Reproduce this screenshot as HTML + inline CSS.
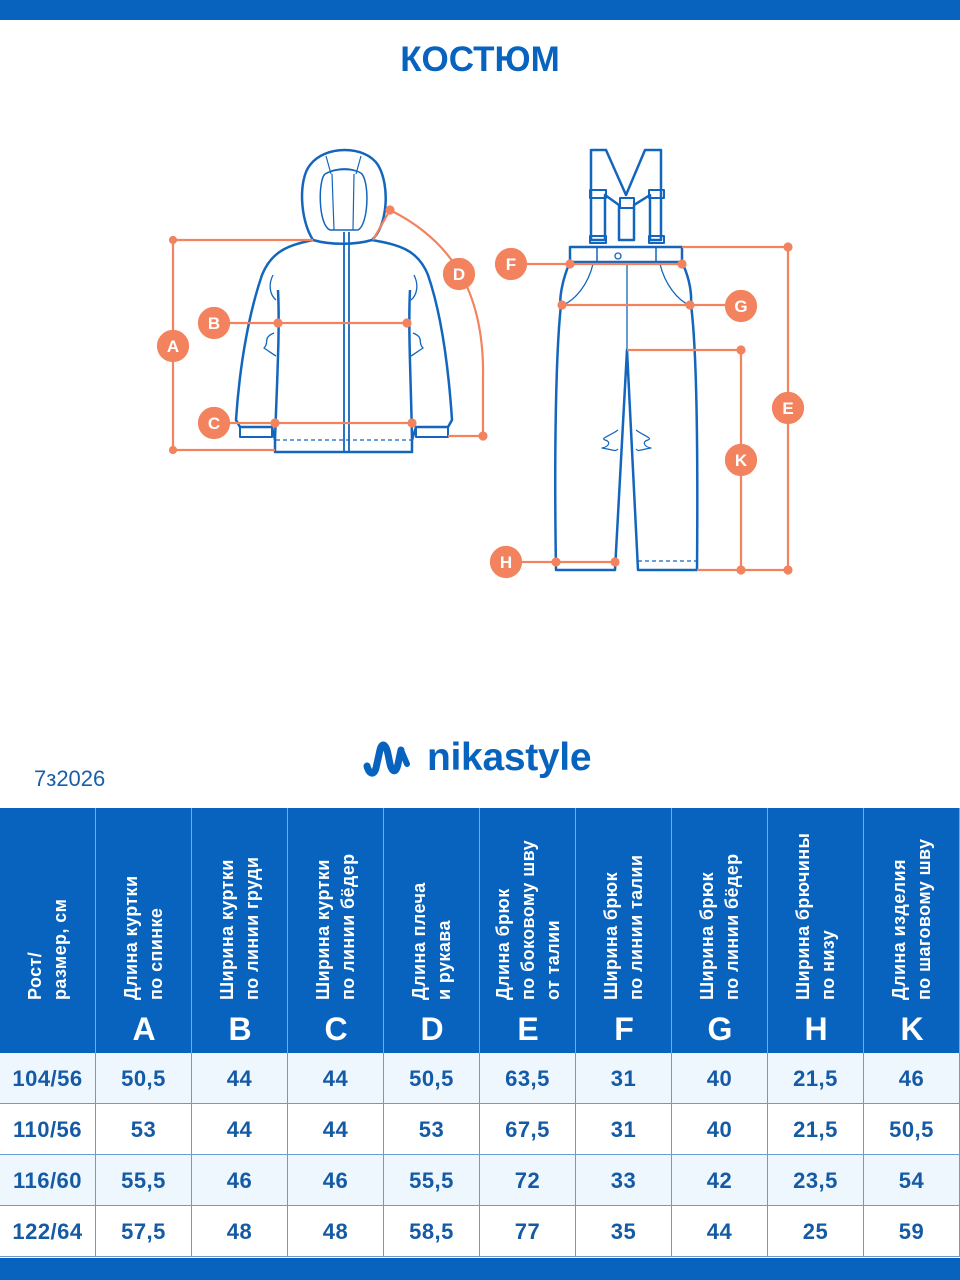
<!DOCTYPE html>
<html><head><meta charset="utf-8"><style>
*{margin:0;padding:0;box-sizing:border-box}
body{width:960px;height:1280px;background:#fff;position:relative;overflow:hidden;font-family:"Liberation Sans",sans-serif}
.bar{position:absolute;left:0;width:960px;background:#0863bf}
.t{position:absolute;}
.hc{position:absolute;top:808px;height:245px;width:96px;background:#0863bf;border-right:1.5px solid #7aa8dc}
.vt{position:absolute;top:192px;transform-origin:0 0;transform:rotate(-90deg);white-space:nowrap;color:#fff;font-weight:bold;font-size:18px;line-height:25px;letter-spacing:0.4px}
.let{position:absolute;left:0;width:96px;top:203px;text-align:center;color:#fff;font-weight:bold;font-size:32px}
.cell{position:absolute;width:96px;height:51px;border-right:1.5px solid #6c9bd0;border-bottom:1.5px solid #6c9bd0;text-align:center;line-height:51px;color:#155aa5;font-weight:bold;font-size:22px;letter-spacing:0.5px}
</style></head><body>
<div class="bar" style="top:0;height:20px"></div>
<div class="t" style="left:0;width:960px;top:40px;text-align:center;color:#0863bf;font-weight:bold;font-size:35px">КОСТЮМ</div>

<svg width="960" height="600" style="position:absolute;left:0;top:0" fill="none">
<g stroke="#1366bd" stroke-width="2.5" stroke-linejoin="round">
<path d="M313,240 C300,220 298,180 310,165 C325,145 365,145 378,165 C390,185 388,225 372,240 C355,245 330,245 313,240Z"/>
<path d="M330,230 C318,225 318,180 325,174 C335,168 355,168 362,174 C370,185 368,225 358,230 Z" stroke-width="1.5"/>
<path d="M326,156 L331,174 M361,156 L356,174 M331,171 C340,168 350,168 356,171 M332,174 L334,230 M354,174 L353,230" stroke-width="1.2"/>
<path d="M313,240 C290,245 272,250 262,275 C250,310 240,360 236,420 L240,427 L272,427 L275,440 L275,452 L412,452 L412,440 L416,427 L448,427 L452,420 C448,360 440,310 428,275 C418,250 400,245 372,240"/>
<path d="M278,290 C280,330 277,380 275,440 M410,290 C408,330 411,380 412,440"/>
<path d="M240,427 L240,437 L272,437 L272,427 M416,427 L416,437 L448,437 L448,427" stroke-width="2"/>
<path d="M276,440 L412,440" stroke-width="1.2" stroke-dasharray="4,3"/>
<path d="M344,232 L344,452 M349,232 L349,452" stroke-width="1.8"/>
<path d="M273,275 C268,285 270,295 276,300 M414,275 C419,285 417,295 411,300 M274,333 C262,338 270,342 264,348 C270,352 274,355 276,356 M413,333 C425,338 417,342 423,348 C417,352 413,355 411,356" stroke-width="1.3"/>
<path d="M591,150 L606,150 L626,195 L645,150 L661,150 L661,240 L650,240 L650,195 L634,205 L634,240 L619,240 L619,205 L605,195 L605,240 L591,240 Z"/>
<path d="M590,190 L606,190 L606,198 L590,198Z M649,190 L664,190 L664,198 L649,198Z M620,198 L634,198 L634,208 L620,208Z M590,236 L606,236 L606,243 L590,243Z M649,236 L664,236 L664,243 L649,243Z" stroke-width="2"/>
<path d="M570,247 L682,247 L682,262 L570,262Z" />
<path d="M597,247 L597,262 M656,247 L656,262" stroke-width="1.5"/>
<circle cx="618" cy="256" r="3" stroke-width="1.3"/>
<path d="M570,262 C562,280 559,300 561,305 C556,350 554,450 556,570 L615,570 L627,350 L638,570 L697,570 C698,450 697,350 691,305 C692,290 688,275 682,262"/>
<path d="M627,262 L627,350" stroke-width="1.3"/>
<path d="M593,264 C588,285 575,300 563,305 M660,264 C665,285 678,300 689,305" stroke-width="1.3"/>
<path d="M638,561 L697,561" stroke-width="1.2" stroke-dasharray="4,3"/>
<path d="M618,430 C610,436 600,438 605,440 C612,442 608,447 602,448 C615,450 615,452 618,449 M636,430 C644,436 653,438 648,440 C641,442 645,447 651,448 C638,450 639,452 636,449" stroke-width="1.2"/>
</g>
<g stroke="#f3835f" stroke-width="2.2" fill="#f3835f">
<path d="M173,240 L313,240 M173,240 L173,450 M173,450 L275,450 M214,323 L407,323 M214,423 L412,423 M373,240 L390,210 M390,210 C450,240 485,290 483,380 L483,436 L448,436 M511,264 L682,264 M561,305 L741,305 M627,350 L741,350 L741,570 M682,247 L788,247 L788,570 L697,570 M506,562 L615,562" fill="none"/>
<circle cx="173" cy="240" r="3"/><circle cx="173" cy="450" r="3"/><circle cx="278" cy="323" r="3.5"/><circle cx="407" cy="323" r="3.5"/><circle cx="275" cy="423" r="3.5"/><circle cx="412" cy="423" r="3.5"/><circle cx="390" cy="210" r="3.5"/><circle cx="483" cy="436" r="3.5"/>
<circle cx="570" cy="264" r="3.5"/><circle cx="682" cy="264" r="3.5"/><circle cx="562" cy="305" r="3.5"/><circle cx="690" cy="305" r="3.5"/><circle cx="741" cy="350" r="3.5"/><circle cx="741" cy="570" r="3.5"/><circle cx="788" cy="247" r="3.5"/><circle cx="788" cy="570" r="3.5"/><circle cx="556" cy="562" r="3.5"/><circle cx="615" cy="562" r="3.5"/>
<circle cx="173" cy="346" r="15"/><circle cx="214" cy="323" r="15"/><circle cx="214" cy="423" r="15"/><circle cx="459" cy="274" r="15"/>
<circle cx="511" cy="264" r="15"/><circle cx="741" cy="306" r="15"/><circle cx="788" cy="408" r="15"/><circle cx="741" cy="460" r="15"/><circle cx="506" cy="562" r="15"/>
</g>
<g fill="#fff" font-family="Liberation Sans" font-weight="bold" font-size="17" text-anchor="middle">
<text x="173" y="352">A</text><text x="214" y="329">B</text><text x="214" y="429">C</text><text x="459" y="280">D</text>
<text x="511" y="270">F</text><text x="741" y="312">G</text><text x="788" y="414">E</text><text x="741" y="466">K</text><text x="506" y="568">H</text>
</g>
</svg>

<svg width="50" height="40" style="position:absolute;left:362px;top:740px" fill="none" stroke="#0863bf" stroke-linecap="round" stroke-linejoin="round"><path d="M5,26 C7,34 12,36 14,28 L18,10 C20,2 24,4 26,14 L28,24 C30,32 34,34 36,24 L39,10" stroke-width="7"/><path d="M39,10 L45,24" stroke-width="6"/></svg>
<div class="t" style="left:427px;top:736px;color:#0863bf;font-weight:bold;font-size:39px;letter-spacing:-0.3px">nikastyle</div>
<div class="t" style="left:34px;top:766px;color:#1a5ea8;font-size:22px">7з2026</div>

<div class="hc" style="left:0"><div class="vt" style="left:23px">Рост/<br>размер, см</div></div>
<div class="hc" style="left:96px"><div class="vt" style="left:23px">Длина куртки<br>по спинке</div><div class="let">A</div></div>
<div class="hc" style="left:192px"><div class="vt" style="left:23px">Ширина куртки<br>по линии груди</div><div class="let">B</div></div>
<div class="hc" style="left:288px"><div class="vt" style="left:23px">Ширина куртки<br>по линии бёдер</div><div class="let">C</div></div>
<div class="hc" style="left:384px"><div class="vt" style="left:23px">Длина плеча<br>и рукава</div><div class="let">D</div></div>
<div class="hc" style="left:480px"><div class="vt" style="left:11px">Длина брюк<br>по боковому шву<br>от талии</div><div class="let">E</div></div>
<div class="hc" style="left:576px"><div class="vt" style="left:23px">Ширина брюк<br>по линии талии</div><div class="let">F</div></div>
<div class="hc" style="left:672px"><div class="vt" style="left:23px">Ширина брюк<br>по линии бёдер</div><div class="let">G</div></div>
<div class="hc" style="left:768px"><div class="vt" style="left:23px">Ширина брючины<br>по низу</div><div class="let">H</div></div>
<div class="hc" style="left:864px"><div class="vt" style="left:23px">Длина изделия<br>по шаговому шву</div><div class="let">K</div></div>

<div id="rows"></div>
<script>
var d=[["104/56","50,5","44","44","50,5","63,5","31","40","21,5","46"],["110/56","53","44","44","53","67,5","31","40","21,5","50,5"],["116/60","55,5","46","46","55,5","72","33","42","23,5","54"],["122/64","57,5","48","48","58,5","77","35","44","25","59"]];
var h="";d.forEach(function(r,i){r.forEach(function(v,j){h+='<div class="cell" style="left:'+(j*96)+'px;top:'+(1053+i*51)+'px;background:'+(i%2?'#fff':'#eef6fe')+'">'+v+'</div>';});});
document.getElementById("rows").innerHTML=h;
</script>
<div class="bar" style="top:1258px;height:22px"></div>
</body></html>
